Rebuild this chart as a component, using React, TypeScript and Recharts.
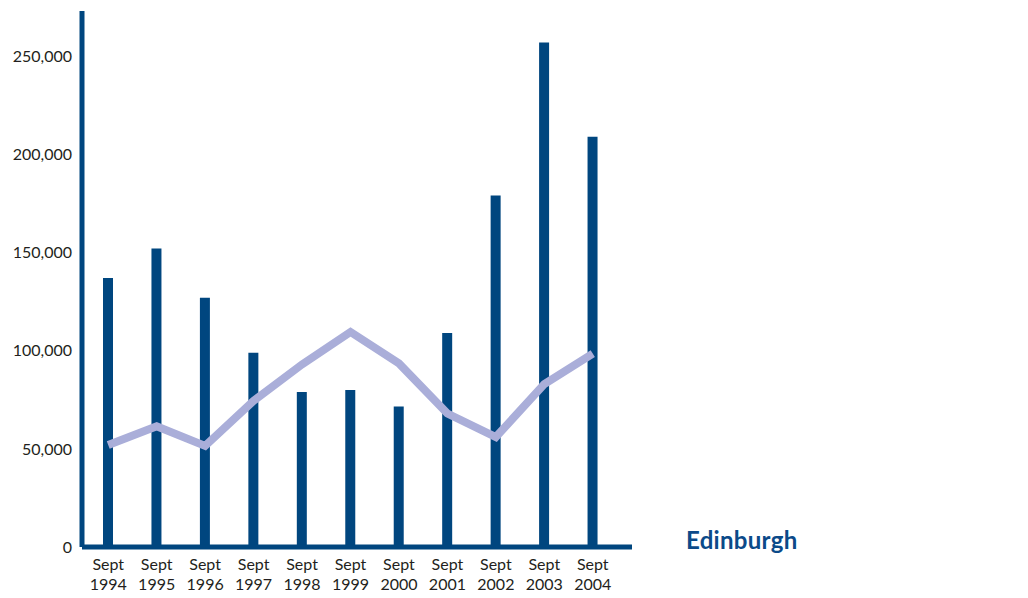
import { ComposedChart, Bar, Line, XAxis, YAxis } from 'recharts';

const years = ['1994', '1995', '1996', '1997', '1998', '1999', '2000', '2001', '2002', '2003', '2004'];
const barValues = [137000, 152000, 127000, 99000, 79000, 80000, 71500, 109000, 179000, 257000, 209000];
const lineValues = [52000, 61500, 51500, 74500, 93000, 109500, 93500, 68000, 56000, 83000, 98500];
const yTicks = [0, 50000, 100000, 150000, 200000, 250000];

const BAR_COLOR = '#00467f';
const LINE_COLOR = '#aaaed9';
const FONT = 'Lato, "Open Sans", sans-serif';

const data = years.map((year, i) => ({ year, bar: barValues[i], line: lineValues[i] }));

function YearTick({ x, y, payload }: any) {
  return (
    <g transform={`translate(${x},${y})`}>
      <text textAnchor="middle" fill="#231f20" fontSize={16} fontFamily={FONT}>
        <tspan x={0} dy={15}>Sept</tspan>
        <tspan x={0} dy={20}>{payload.value}</tspan>
      </text>
    </g>
  );
}

export default function App() {
  return (
    <div style={{ position: 'absolute', left: 0, top: 0, width: 1028, height: 598, background: '#fff' }}>
      <ComposedChart
        width={1028}
        height={598}
        data={data}
        margin={{ top: 11, right: 396, bottom: 0, left: 0 }}
      >
        <XAxis
          dataKey="year"
          height={51}
          padding={{ left: 2, right: 15 }}
          axisLine={{ stroke: BAR_COLOR, strokeWidth: 5 }}
          tickLine={false}
          tick={<YearTick />}
          interval={0}
        />
        <YAxis
          width={82}
          domain={[0, 273000]}
          ticks={yTicks}
          allowDataOverflow
          axisLine={{ stroke: BAR_COLOR, strokeWidth: 5 }}
          tickLine={false}
          tickMargin={4}
          tick={{ fill: '#231f20', fontSize: 16, fontFamily: FONT }}
          tickFormatter={(v: number) => v.toLocaleString('en-GB')}
        />
        <Bar dataKey="bar" fill={BAR_COLOR} barSize={10} isAnimationActive={false} />
        <Line
          dataKey="line"
          stroke={LINE_COLOR}
          strokeWidth={8}
          dot={false}
          type="linear"
          isAnimationActive={false}
        />
      </ComposedChart>
      <div
        style={{
          position: 'absolute',
          left: 686,
          top: 526,
          fontFamily: FONT,
          fontWeight: 700,
          fontSize: 24,
          letterSpacing: 0.3,
          color: '#0b4a89',
          lineHeight: '28px',
        }}
      >
        Edinburgh
      </div>
    </div>
  );
}
